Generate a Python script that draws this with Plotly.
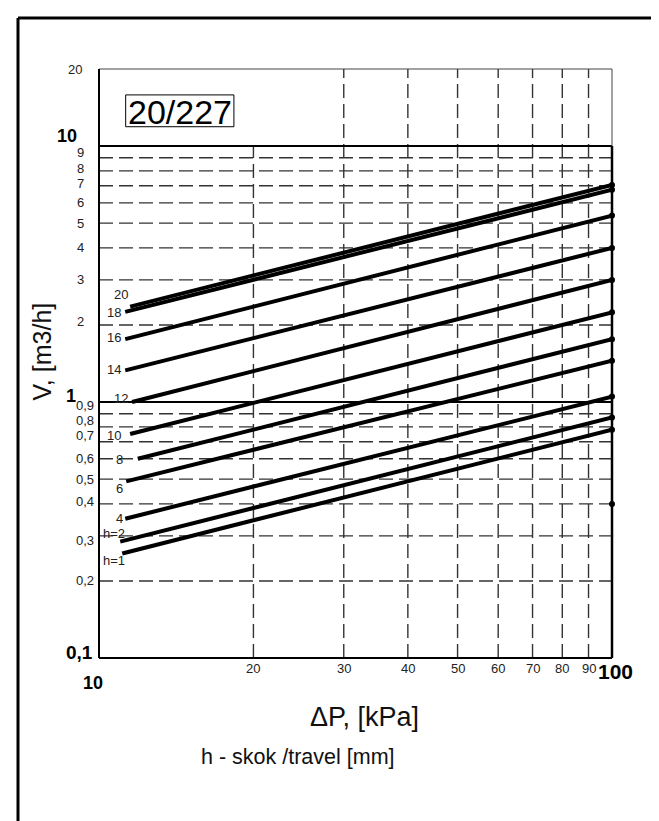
import numpy as np
import plotly.graph_objects as go

# ---------------- data ----------------
h_labels = ["20", "18", "16", "14", "12", "10", "8", "6", "4", "h=2", "h=1"]
start_dp = [11.5, 11.25, 11.25, 11.25, 11.6, 11.5, 11.9, 11.3, 11.25, 11.0, 11.1]
start_v = [2.36, 2.25, 1.76, 1.33, 1.0, 0.75, 0.60, 0.49, 0.35, 0.285, 0.256]
end_dp = 100
end_v = [7.05, 6.75, 5.35, 4.0, 3.0, 2.24, 1.76, 1.45, 1.05, 0.87, 0.78]
extra_dot_v = [0.4]

x_grid = [20, 30, 40, 50, 60, 70, 80, 90]
x_tick_text = ["20", "30", "40", "50", "60", "70", "80", "90"]
y_dash = [0.2, 0.3, 0.4, 0.5, 0.6, 0.7, 0.8, 0.9, 2, 3, 4, 5, 6, 7, 8, 9]
y_solid = [1, 10]
y_tick_vals = [20, 10, 9, 8, 7, 6, 5, 4, 3, 2, 1, 0.9, 0.8, 0.7, 0.6, 0.5, 0.4, 0.3, 0.2, 0.1]
y_tick_text = ["20", "10", "9", "8", "7", "6", "5", "4", "3", "2", "1",
               "0,9", "0,8", "0,7", "0,6", "0,5", "0,4", "0,3", "0,2", "0,1"]

X_MIN, X_MAX = 10, 100
Y_MIN, Y_MAX = 0.1, 20

FONT = "Liberation Sans, Arial, sans-serif"
GRID_COL = "#333333"
DASH = "14px,6px"

fig = go.Figure()

# horizontal dashed grid
for v in y_dash:
    fig.add_trace(go.Scatter(x=[X_MIN, X_MAX], y=[v, v], mode="lines",
                             line=dict(color=GRID_COL, width=1.4, dash=DASH),
                             hoverinfo="skip", showlegend=False))
# vertical dashed grid (20 only up to 10)
for xv in x_grid:
    top = 10 if xv == 20 else Y_MAX
    fig.add_trace(go.Scatter(x=[xv, xv], y=[Y_MIN, top], mode="lines",
                             line=dict(color=GRID_COL, width=1.4, dash=DASH),
                             hoverinfo="skip", showlegend=False))
# solid grid at decades
for v in y_solid:
    fig.add_trace(go.Scatter(x=[X_MIN, X_MAX], y=[v, v], mode="lines",
                             line=dict(color="black", width=2),
                             hoverinfo="skip", showlegend=False))

# characteristic lines
for lab, x0, v0, v1 in zip(h_labels, start_dp, start_v, end_v):
    fig.add_trace(go.Scatter(x=[x0, end_dp], y=[v0, v1], mode="lines",
                             line=dict(color="black", width=4),
                             hoverinfo="skip", showlegend=False, name=lab))

# end dots
fig.add_trace(go.Scatter(x=[end_dp] * (len(end_v) + len(extra_dot_v)),
                         y=end_v + extra_dot_v, mode="markers",
                         marker=dict(color="black", size=6),
                         cliponaxis=False, hoverinfo="skip", showlegend=False))

ann = []
# line labels (pixel offsets from line start)
lab_shift = [(-9.5, 11.7), (-11.5, -1), (-11.5, 1.3), (-11.5, 1.2), (-10.7, 3.4),
             (-16.5, -1.7), (-18.3, -1), (-6.5, -7.6), (-5.5, 0.6), (-6, 7.7), (-8, -6.7)]
for lab, x0, v0, (dx, dy) in zip(h_labels, start_dp, start_v, lab_shift):
    ann.append(dict(x=np.log10(x0), y=np.log10(v0), xref="x", yref="y", text=lab,
                    showarrow=False, xshift=dx, yshift=dy, xanchor="center", yanchor="middle",
                    font=dict(family=FONT, size=13, color="#222")))

# x tick labels
for xv, t in zip(x_grid, x_tick_text):
    ann.append(dict(x=np.log10(xv), y=0, xref="x", yref="paper", text=t, showarrow=False,
                    xanchor="center", yanchor="middle", yshift=-10,
                    font=dict(family=FONT, size=13, color="#222")))
ann.append(dict(x=np.log10(X_MIN), y=0, xref="x", yref="paper", text="<b>10</b>", showarrow=False,
                xanchor="center", yanchor="middle", xshift=-6, yshift=-25,
                font=dict(family=FONT, size=18, color="black")))
ann.append(dict(x=np.log10(X_MAX), y=0, xref="x", yref="paper", text="<b>100</b>", showarrow=False,
                xanchor="center", yanchor="middle", xshift=3, yshift=-13,
                font=dict(family=FONT, size=21, color="black")))

# y tick labels: (anchor, xshift, yshift, bold size)
y_style = {
    "20": ("right", -15, 0, None), "10": ("right", -20, 9.6, 18),
    "9": ("left", -24, 5, None), "8": ("left", -24, 2, None), "7": ("left", -24, 2, None),
    "6": ("left", -24, 0, None), "5": ("left", -24, 0, None), "4": ("left", -24, 0, None),
    "3": ("left", -24, 0, None), "2": ("left", -24, 3.6, None), "1": ("right", -21, 6, 18),
    "0,9": ("left", -25, 8, None), "0,8": ("left", -25, 6.8, None), "0,7": ("left", -25, 6.6, None),
    "0,6": ("left", -25, 0, None), "0,5": ("left", -25, 0, None), "0,4": ("left", -25, 2, None),
    "0,3": ("left", -25, -5, None), "0,2": ("left", -25, 0, None), "0,1": ("right", -4, 6, 19),
}
for v, t in zip(y_tick_vals, y_tick_text):
    anc, xs, ys, bsize = y_style[t]
    txt = f"<b>{t}</b>" if bsize else t
    ann.append(dict(x=0, y=np.log10(v), xref="paper", yref="y", text=txt, showarrow=False,
                    xanchor=anc, yanchor="middle", xshift=xs, yshift=ys,
                    font=dict(family=FONT, size=bsize or 13, color="black" if bsize else "#222")))

# axis titles and notes
ann.append(dict(x=0.5185, y=0, xref="paper", yref="paper", text="ΔP, [kPa]", showarrow=False,
                xanchor="center", yanchor="middle", yshift=-59,
                font=dict(family=FONT, size=27, color="#111")))
ann.append(dict(x=0.388, y=0, xref="paper", yref="paper", text="h - skok /travel [mm]",
                showarrow=False, xanchor="center", yanchor="middle", yshift=-99,
                font=dict(family=FONT, size=21.5, color="#111")))
ann.append(dict(x=0, y=0.5195, xref="paper", yref="paper", text="V, [m3/h]", showarrow=False,
                textangle=-90, xanchor="center", yanchor="middle", xshift=-56.5,
                font=dict(family=FONT, size=25, color="#111")))
# title text (box drawn as shape)
ann.append(dict(x=0.1575, y=0.929, xref="paper", yref="paper", text="20/227", showarrow=False,
                xanchor="center", yanchor="middle", yshift=-1,
                font=dict(family=FONT, size=34, color="black")))

# plot border parts, title box and outer frame (top + left edges only; the rest is off-page)
y10_frac = (np.log10(10) - np.log10(Y_MIN)) / (np.log10(Y_MAX) - np.log10(Y_MIN))
FX, FY = -0.1579, 1.0866
shapes = [
    dict(type="line", xref="paper", yref="paper", x0=1, x1=1, y0=0, y1=y10_frac,
         line=dict(color="black", width=2.5)),
    dict(type="line", xref="paper", yref="paper", x0=1, x1=1, y0=y10_frac, y1=1,
         line=dict(color="#444", width=1)),
    dict(type="line", xref="paper", yref="paper", x0=0, x1=1, y0=1, y1=1,
         line=dict(color="#444", width=1)),
    dict(type="line", xref="paper", yref="paper", x0=0, x1=0, y0=0, y1=1,
         line=dict(color="black", width=2)),
    dict(type="line", xref="paper", yref="paper", x0=0, x1=1, y0=0, y1=0,
         line=dict(color="black", width=2)),
    dict(type="rect", xref="paper", yref="paper", x0=0.052, x1=0.263, y0=0.902, y1=0.956,
         line=dict(color="black", width=1)),
    dict(type="line", xref="paper", yref="paper", x0=FX, x1=1.5, y0=FY, y1=FY,
         line=dict(color="black", width=3)),
    dict(type="line", xref="paper", yref="paper", x0=FX, x1=FX, y0=-0.5, y1=FY,
         line=dict(color="black", width=3)),
]

fig.update_layout(
    width=651, height=813, autosize=False,
    margin=dict(l=91, r=47, t=61, b=163, pad=0),
    paper_bgcolor="white", plot_bgcolor="white",
    showlegend=False,
    xaxis=dict(type="log", range=[np.log10(X_MIN), np.log10(X_MAX)], showgrid=False,
               zeroline=False, showticklabels=False, ticks="", showline=False, fixedrange=True),
    yaxis=dict(type="log", range=[np.log10(Y_MIN), np.log10(Y_MAX)], showgrid=False,
               zeroline=False, showticklabels=False, ticks="", showline=False, fixedrange=True),
    annotations=ann,
    shapes=shapes,
)

fig.write_html("out.html")
